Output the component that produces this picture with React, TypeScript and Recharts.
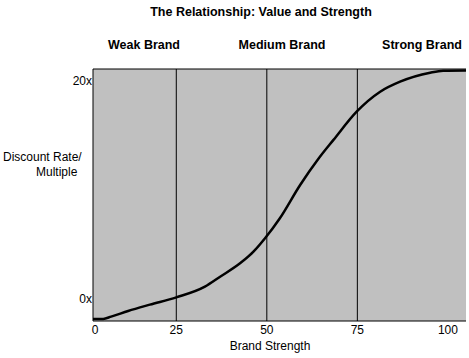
import { LineChart, Line, XAxis, YAxis, ReferenceLine, ReferenceArea } from 'recharts'

// brand strength (x) vs multiple (y)
const strength = [2, 4.8, 7, 11.7, 17.7, 25, 32.9, 37.1, 42.6, 46.3, 49.5, 53.6, 59.2, 64.2, 68.4, 74.8, 81.3, 86.8, 95.1, 98.7, 105]
const multiple = [-1.81, -1.81, -1.6, -1.08, -0.5, 0.17, 1.15, 2.06, 3.29, 4.35, 5.58, 7.42, 10.47, 12.85, 14.6, 17.19, 19.02, 19.94, 20.76, 20.94, 20.96]

const xTicks = [2, 25, 50, 75, 100]
const xTickLabels = ['0', '25', '50', '75', '100']
const yTicks = [0, 20]
const dividers = [25, 50, 75]
const bands = ['Weak Brand', 'Medium Brand', 'Strong Brand']
const bandCenters = [144, 282, 422]

const X_MIN = 2
const X_MAX = 105
const Y_MIN = -2
const Y_MAX = 21.1

const FONT = '"Liberation Sans", Arial, sans-serif'

const data = strength.map((s, i) => ({ s, m: multiple[i] }))

function XTick({ x, y, payload }: any) {
  const i = xTicks.indexOf(payload.value)
  const label = i >= 0 ? xTickLabels[i] : String(payload.value)
  return (
    <text x={x + (i === 0 ? 2 : 0)} y={y} dy="0.71em" textAnchor="middle" fill="#000" fontSize={12} fontFamily={FONT}>
      {label}
    </text>
  )
}

export default function App() {
  return (
    <div style={{ position: 'absolute', left: 0, top: 0, width: 469, height: 358, background: '#fff', fontFamily: FONT, color: '#000' }}>
      <div style={{ position: 'absolute', left: 0, width: 522, top: 5, textAlign: 'center', fontSize: 12.5, fontWeight: 'bold' }}>
        The Relationship: Value and Strength
      </div>
      {bands.map((b, i) => (
        <div key={b} style={{ position: 'absolute', left: bandCenters[i] - 60, width: 120, top: 38, textAlign: 'center', fontSize: 12.5, fontWeight: 'bold' }}>
          {b}
        </div>
      ))}
      <div style={{ position: 'absolute', left: 3, top: 150, fontSize: 12 }}>Discount Rate/</div>
      <div style={{ position: 'absolute', left: 36, top: 165, fontSize: 12 }}>Multiple</div>
      <div style={{ position: 'absolute', left: 200, width: 140, top: 339, textAlign: 'center', fontSize: 12 }}>Brand Strength</div>

      <LineChart width={469} height={358} data={data} margin={{ top: 69, right: 3, left: 0, bottom: 0 }} style={{ position: 'absolute', left: 0, top: 0 }}>
        <XAxis
          dataKey="s"
          type="number"
          domain={[X_MIN, X_MAX]}
          ticks={xTicks}
          height={37}
          axisLine={{ stroke: '#000' }}
          tickLine={false}
          tickSize={0}
          tickMargin={4}
          tick={<XTick />}
          allowDataOverflow
        />
        <YAxis
          type="number"
          domain={[Y_MIN, Y_MAX]}
          ticks={yTicks}
          tickFormatter={(v: number) => `${v}x`}
          width={93}
          axisLine={{ stroke: '#000' }}
          tickLine={false}
          tickSize={0}
          tickMargin={1}
          tick={{ fill: '#000', fontSize: 12, fontFamily: FONT }}
          allowDataOverflow
        />
        <ReferenceArea x1={X_MIN} x2={X_MAX} y1={Y_MIN} y2={Y_MAX} fill="#c0c0c0" fillOpacity={1} stroke="none" />
        <ReferenceLine y={Y_MAX} stroke="#000" strokeWidth={1} />
        {dividers.map((d) => (
          <ReferenceLine key={d} x={d} stroke="#000" strokeWidth={1} />
        ))}
        <Line type="monotone" dataKey="m" stroke="#000" strokeWidth={2.5} dot={false} isAnimationActive={false} />
      </LineChart>
    </div>
  )
}
